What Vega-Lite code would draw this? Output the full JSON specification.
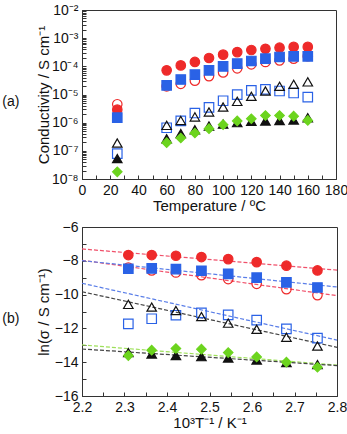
{
  "$schema": "https://vega.github.io/schema/vega-lite/v6.json",
  "background": "white",
  "padding": {"left": 1, "top": 2, "right": 2, "bottom": 0},
  "config": {
    "font": "Liberation Sans",
    "view": {"stroke": "#333", "strokeWidth": 1},
    "axis": {"grid": false, "domainColor": "#333", "tickColor": "#333", "labelColor": "#111", "titleColor": "#111", "labelFontSize": 14, "titleFontSize": 15, "titleFontWeight": "normal", "tickSize": -4, "labelPadding": 8, "labelOverlap": false, "labelFlush": false},
    "axisY": {"minExtent": 28, "maxExtent": 28},
    "title": {"fontSize": 14, "fontWeight": "normal", "color": "#111"},
    "concat": {"spacing": 5}
  },
  "datasets": {
    "a": [
      {"T": 25, "s": 4.5e-6, "series": "ro"}, {"T": 60, "s": 1.95e-5, "series": "ro"}, {"T": 70, "s": 2.4e-5, "series": "ro"}, {"T": 80, "s": 3.1e-5, "series": "ro"}, {"T": 90, "s": 4.5e-5, "series": "ro"}, {"T": 100, "s": 6.1e-5, "series": "ro"}, {"T": 110, "s": 8.5e-5, "series": "ro"}, {"T": 120, "s": 1.18e-4, "series": "ro"}, {"T": 130, "s": 1.43e-4, "series": "ro"}, {"T": 140, "s": 1.63e-4, "series": "ro"}, {"T": 150, "s": 1.87e-4, "series": "ro"}, {"T": 160, "s": 2.3e-4, "series": "ro"},
      {"T": 25, "s": 2.9e-6, "series": "rf"}, {"T": 60, "s": 7.2e-5, "series": "rf"}, {"T": 70, "s": 1.08e-4, "series": "rf"}, {"T": 80, "s": 1.43e-4, "series": "rf"}, {"T": 90, "s": 1.98e-4, "series": "rf"}, {"T": 100, "s": 2.6e-4, "series": "rf"}, {"T": 110, "s": 3.2e-4, "series": "rf"}, {"T": 120, "s": 3.8e-4, "series": "rf"}, {"T": 130, "s": 4.2e-4, "series": "rf"}, {"T": 140, "s": 4.6e-4, "series": "rf"}, {"T": 150, "s": 4.9e-4, "series": "rf"}, {"T": 160, "s": 4.9e-4, "series": "rf"},
      {"T": 25, "s": 1.5e-6, "series": "bf"}, {"T": 60, "s": 2.1e-5, "series": "bf"}, {"T": 70, "s": 3.4e-5, "series": "bf"}, {"T": 80, "s": 5.1e-5, "series": "bf"}, {"T": 90, "s": 7.2e-5, "series": "bf"}, {"T": 100, "s": 1.0e-4, "series": "bf"}, {"T": 110, "s": 1.25e-4, "series": "bf"}, {"T": 120, "s": 1.55e-4, "series": "bf"}, {"T": 130, "s": 1.87e-4, "series": "bf"}, {"T": 140, "s": 2.15e-4, "series": "bf"}, {"T": 150, "s": 2.26e-4, "series": "bf"}, {"T": 160, "s": 2.26e-4, "series": "bf"},
      {"T": 25, "s": 7.9e-8, "series": "bo"}, {"T": 60, "s": 6.6e-7, "series": "bo"}, {"T": 70, "s": 1.15e-6, "series": "bo"}, {"T": 80, "s": 2.2e-6, "series": "bo"}, {"T": 90, "s": 3.5e-6, "series": "bo"}, {"T": 100, "s": 6.0e-6, "series": "bo"}, {"T": 110, "s": 9.9e-6, "series": "bo"}, {"T": 120, "s": 1.41e-5, "series": "bo"}, {"T": 130, "s": 1.53e-5, "series": "bo"}, {"T": 140, "s": 1.33e-5, "series": "bo"}, {"T": 150, "s": 1.13e-5, "series": "bo"}, {"T": 160, "s": 8.1e-6, "series": "bo"},
      {"T": 25, "s": 1.9e-7, "series": "ko"}, {"T": 60, "s": 8e-7, "series": "ko"}, {"T": 70, "s": 1.2e-6, "series": "ko"}, {"T": 80, "s": 1.6e-6, "series": "ko"}, {"T": 90, "s": 2.4e-6, "series": "ko"}, {"T": 100, "s": 3.6e-6, "series": "ko"}, {"T": 110, "s": 5.7e-6, "series": "ko"}, {"T": 120, "s": 8.6e-6, "series": "ko"}, {"T": 130, "s": 1.33e-5, "series": "ko"}, {"T": 140, "s": 1.95e-5, "series": "ko"}, {"T": 150, "s": 2.3e-5, "series": "ko"}, {"T": 160, "s": 2.8e-5, "series": "ko"},
      {"T": 25, "s": 5.3e-8, "series": "kf"}, {"T": 60, "s": 2.7e-7, "series": "kf"}, {"T": 70, "s": 4.1e-7, "series": "kf"}, {"T": 80, "s": 5.6e-7, "series": "kf"}, {"T": 90, "s": 7.6e-7, "series": "kf"}, {"T": 100, "s": 8.9e-7, "series": "kf"}, {"T": 110, "s": 1.0e-6, "series": "kf"}, {"T": 120, "s": 1.12e-6, "series": "kf"}, {"T": 130, "s": 1.15e-6, "series": "kf"}, {"T": 140, "s": 1.2e-6, "series": "kf"}, {"T": 150, "s": 1.25e-6, "series": "kf"}, {"T": 160, "s": 1.5e-6, "series": "kf"},
      {"T": 25, "s": 1.8e-8, "series": "g"}, {"T": 60, "s": 1.95e-7, "series": "g"}, {"T": 70, "s": 2.85e-7, "series": "g"}, {"T": 80, "s": 4.3e-7, "series": "g"}, {"T": 90, "s": 6.1e-7, "series": "g"}, {"T": 100, "s": 8.5e-7, "series": "g"}, {"T": 110, "s": 1.15e-6, "series": "g"}, {"T": 120, "s": 1.38e-6, "series": "g"}, {"T": 130, "s": 1.8e-6, "series": "g"}, {"T": 140, "s": 1.8e-6, "series": "g"}, {"T": 150, "s": 1.7e-6, "series": "g"}, {"T": 160, "s": 1.2e-6, "series": "g"}
    ],
    "b": [
      {"x": 2.309, "ln": -8.40, "series": "ro"}, {"x": 2.364, "ln": -8.57, "series": "ro"}, {"x": 2.421, "ln": -8.69, "series": "ro"}, {"x": 2.481, "ln": -8.85, "series": "ro"}, {"x": 2.544, "ln": -9.08, "series": "ro"}, {"x": 2.611, "ln": -9.36, "series": "ro"}, {"x": 2.681, "ln": -9.68, "series": "ro"}, {"x": 2.754, "ln": -10.03, "series": "ro"},
      {"x": 2.309, "ln": -7.66, "series": "rf"}, {"x": 2.364, "ln": -7.66, "series": "rf"}, {"x": 2.421, "ln": -7.70, "series": "rf"}, {"x": 2.481, "ln": -7.78, "series": "rf"}, {"x": 2.544, "ln": -7.90, "series": "rf"}, {"x": 2.611, "ln": -8.08, "series": "rf"}, {"x": 2.681, "ln": -8.29, "series": "rf"}, {"x": 2.754, "ln": -8.57, "series": "rf"},
      {"x": 2.309, "ln": -8.47, "series": "bf"}, {"x": 2.364, "ln": -8.45, "series": "bf"}, {"x": 2.421, "ln": -8.49, "series": "bf"}, {"x": 2.481, "ln": -8.59, "series": "bf"}, {"x": 2.544, "ln": -8.77, "series": "bf"}, {"x": 2.611, "ln": -9.00, "series": "bf"}, {"x": 2.681, "ln": -9.28, "series": "bf"}, {"x": 2.754, "ln": -9.58, "series": "bf"},
      {"x": 2.309, "ln": -11.73, "series": "bo"}, {"x": 2.364, "ln": -11.43, "series": "bo"}, {"x": 2.421, "ln": -11.22, "series": "bo"}, {"x": 2.481, "ln": -11.08, "series": "bo"}, {"x": 2.544, "ln": -11.20, "series": "bo"}, {"x": 2.611, "ln": -11.51, "series": "bo"}, {"x": 2.681, "ln": -12.03, "series": "bo"}, {"x": 2.754, "ln": -12.58, "series": "bo"},
      {"x": 2.309, "ln": -10.58, "series": "ko"}, {"x": 2.364, "ln": -10.74, "series": "ko"}, {"x": 2.421, "ln": -10.94, "series": "ko"}, {"x": 2.481, "ln": -11.30, "series": "ko"}, {"x": 2.544, "ln": -11.69, "series": "ko"}, {"x": 2.611, "ln": -12.05, "series": "ko"}, {"x": 2.681, "ln": -12.52, "series": "ko"}, {"x": 2.754, "ln": -13.04, "series": "ko"},
      {"x": 2.309, "ln": -13.43, "series": "kf"}, {"x": 2.364, "ln": -13.51, "series": "kf"}, {"x": 2.421, "ln": -13.61, "series": "kf"}, {"x": 2.481, "ln": -13.67, "series": "kf"}, {"x": 2.544, "ln": -13.75, "series": "kf"}, {"x": 2.611, "ln": -13.87, "series": "kf"}, {"x": 2.681, "ln": -14.02, "series": "kf"}, {"x": 2.754, "ln": -14.14, "series": "kf"},
      {"x": 2.309, "ln": -13.61, "series": "g"}, {"x": 2.364, "ln": -13.29, "series": "g"}, {"x": 2.421, "ln": -13.19, "series": "g"}, {"x": 2.481, "ln": -13.23, "series": "g"}, {"x": 2.544, "ln": -13.43, "series": "g"}, {"x": 2.611, "ln": -13.69, "series": "g"}, {"x": 2.681, "ln": -14.00, "series": "g"}, {"x": 2.754, "ln": -14.30, "series": "g"}
    ],
    "fits": [
      {"x": 2.2, "ln": -7.30, "fit": "rf"}, {"x": 2.8, "ln": -8.55, "fit": "rf"},
      {"x": 2.2, "ln": -7.97, "fit": "ro"}, {"x": 2.8, "ln": -10.06, "fit": "ro"},
      {"x": 2.2, "ln": -7.99, "fit": "bf"}, {"x": 2.8, "ln": -9.55, "fit": "bf"},
      {"x": 2.2, "ln": -9.33, "fit": "bo"}, {"x": 2.8, "ln": -12.69, "fit": "bo"},
      {"x": 2.2, "ln": -9.83, "fit": "ko"}, {"x": 2.8, "ln": -13.12, "fit": "ko"},
      {"x": 2.2, "ln": -12.98, "fit": "g"}, {"x": 2.8, "ln": -14.17, "fit": "g"},
      {"x": 2.2, "ln": -13.22, "fit": "kf"}, {"x": 2.8, "ln": -14.20, "fit": "kf"}
    ]
  },
  "vconcat": [
    {
      "width": 254,
      "height": 169,
      "title": {"text": "(a)", "orient": "left", "angle": 0, "anchor": "middle", "offset": 8},
      "data": {"name": "a"},
      "mark": {"type": "point", "size": 90, "strokeWidth": 1.2, "opacity": 1},
      "encoding": {
        "x": {"field": "T", "type": "quantitative", "scale": {"domain": [0, 180], "nice": false},
          "axis": {"values": [0, 10, 20, 30, 40, 50, 60, 70, 80, 90, 100, 110, 120, 130, 140, 150, 160, 170, 180], "labelExpr": "datum.value % 20 == 0 ? datum.label : ''", "title": "Temperature / ºC", "titlePadding": 1}},
        "y": {"field": "s", "type": "quantitative", "scale": {"type": "log", "domain": [1e-8, 1e-2], "nice": false},
          "axis": {"values": [1e-8, 2e-8, 3e-8, 4e-8, 5e-8, 6e-8, 7e-8, 8e-8, 9e-8, 1e-7, 2e-7, 3e-7, 4e-7, 5e-7, 6e-7, 7e-7, 8e-7, 9e-7, 1e-6, 2e-6, 3e-6, 4e-6, 5e-6, 6e-6, 7e-6, 8e-6, 9e-6, 1e-5, 2e-5, 3e-5, 4e-5, 5e-5, 6e-5, 7e-5, 8e-5, 9e-5, 1e-4, 2e-4, 3e-4, 4e-4, 5e-4, 6e-4, 7e-4, 8e-4, 9e-4, 1e-3, 2e-3, 3e-3, 4e-3, 5e-3, 6e-3, 7e-3, 8e-3, 9e-3, 1e-2],
            "labelExpr": "abs(log(datum.value)/LN10 - round(log(datum.value)/LN10)) < 0.001 ? '10' + ['⁻⁸','⁻⁷','⁻⁶','⁻⁵','⁻⁴','⁻³','⁻²'][round(log(datum.value)/LN10) + 8] : ''",
            "title": "Conductivity / S cm⁻¹", "titlePadding": 3}},
        "shape": {"field": "series", "type": "nominal", "legend": null,
          "scale": {"domain": ["ro", "rf", "bf", "bo", "ko", "kf", "g"], "range": ["circle", "circle", "square", "square", "triangle-up", "triangle-up", "diamond"]}},
        "stroke": {"field": "series", "type": "nominal", "legend": null,
          "scale": {"domain": ["ro", "rf", "bf", "bo", "ko", "kf", "g"], "range": ["#ee2a2a", "#ee2a2a", "#2a62e6", "#2a62e6", "#111111", "#111111", "#6cd41e"]}},
        "fill": {"field": "series", "type": "nominal", "legend": null,
          "scale": {"domain": ["ro", "rf", "bf", "bo", "ko", "kf", "g"], "range": ["transparent", "#ee2a2a", "#2a62e6", "transparent", "transparent", "#111111", "#6cd41e"]}}
      }
    },
    {
      "width": 255,
      "height": 169,
      "title": {"text": "(b)", "orient": "left", "angle": 0, "anchor": "middle", "offset": 8},
      "layer": [
        {
          "data": {"name": "fits"},
          "mark": {"type": "line", "strokeDash": [4, 2], "strokeWidth": 1.2},
          "encoding": {
            "x": {"field": "x", "type": "quantitative"},
            "y": {"field": "ln", "type": "quantitative"},
            "detail": {"field": "fit", "type": "nominal"},
            "color": {"field": "fit", "type": "nominal", "legend": null,
              "scale": {"domain": ["ro", "rf", "bf", "bo", "ko", "kf", "g"], "range": ["#f0506a", "#f0506a", "#5a7ee8", "#5a7ee8", "#444444", "#444444", "#9ee05a"]}}
          }
        },
        {
          "data": {"name": "b"},
          "mark": {"type": "point", "size": 90, "strokeWidth": 1.2, "opacity": 1},
          "encoding": {
            "x": {"field": "x", "type": "quantitative"},
            "y": {"field": "ln", "type": "quantitative"},
            "shape": {"field": "series", "type": "nominal", "legend": null,
              "scale": {"domain": ["ro", "rf", "bf", "bo", "ko", "kf", "g"], "range": ["circle", "circle", "square", "square", "triangle-up", "triangle-up", "diamond"]}},
            "stroke": {"field": "series", "type": "nominal", "legend": null,
              "scale": {"domain": ["ro", "rf", "bf", "bo", "ko", "kf", "g"], "range": ["#ee2a2a", "#ee2a2a", "#2a62e6", "#2a62e6", "#111111", "#111111", "#6cd41e"]}},
            "fill": {"field": "series", "type": "nominal", "legend": null,
              "scale": {"domain": ["ro", "rf", "bf", "bo", "ko", "kf", "g"], "range": ["transparent", "#ee2a2a", "#2a62e6", "transparent", "transparent", "#111111", "#6cd41e"]}}
          }
        }
      ],
      "encoding": {
        "x": {"field": "x", "type": "quantitative", "scale": {"domain": [2.2, 2.8], "nice": false},
          "axis": {"values": [2.2, 2.25, 2.3, 2.35, 2.4, 2.45, 2.5, 2.55, 2.6, 2.65, 2.7, 2.75, 2.8], "labelExpr": "abs(datum.value*10 - round(datum.value*10)) < 0.001 ? format(datum.value, '.1f') : ''", "title": "10³T⁻¹ / K⁻¹", "titlePadding": 1}},
        "y": {"field": "ln", "type": "quantitative", "scale": {"domain": [-16, -6], "nice": false},
          "axis": {"values": [-16, -15, -14, -13, -12, -11, -10, -9, -8, -7, -6], "labelExpr": "datum.value % 2 == 0 ? datum.label : ''", "title": "ln(σ / S cm⁻¹)", "titlePadding": 3}}
      }
    }
  ]
}
